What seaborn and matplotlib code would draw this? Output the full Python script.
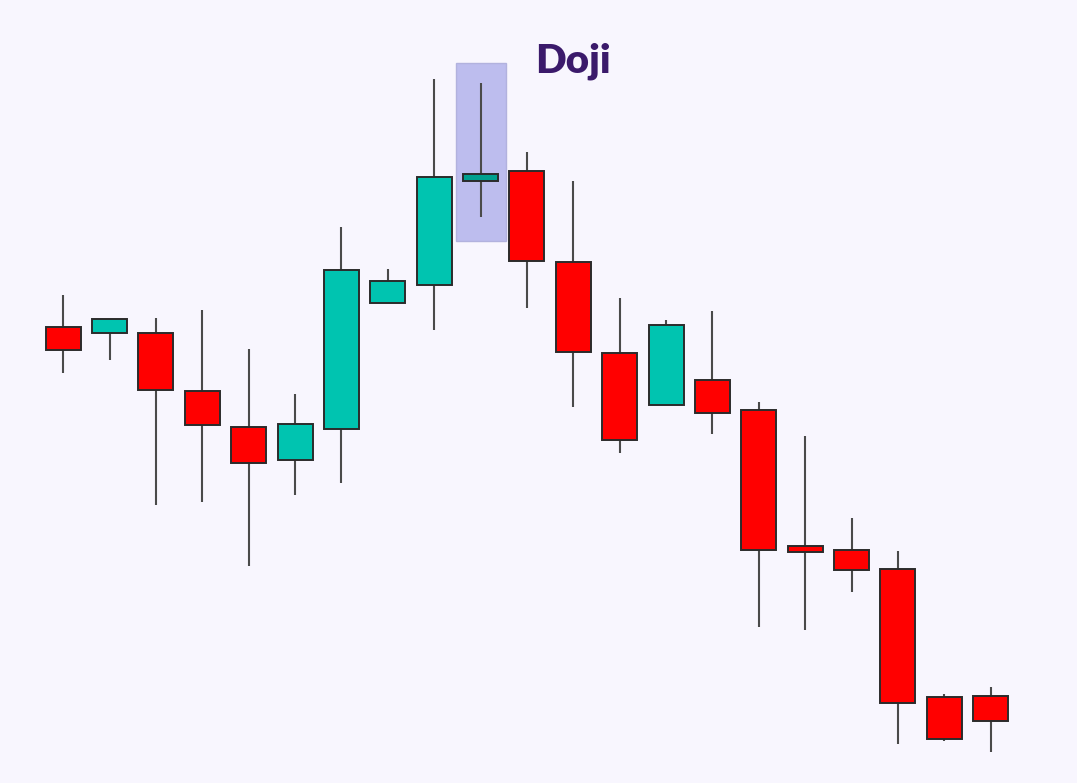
import numpy as np
import pandas as pd
import seaborn as sns
import matplotlib.pyplot as plt
from matplotlib.patches import Rectangle

# === candle data ===
opens = [118.3, 116.7, 116.8, 102.2, 93.2, 85.0, 92.7, 124.2, 128.8, 154.8,
         157.2, 134.4, 111.7, 98.8, 105.0, 97.5, 63.4, 62.5, 57.8, 25.7, 26.1]
closes = [112.6, 120.2, 102.5, 93.7, 84.2, 93.9, 132.5, 129.8, 155.8, 156.5,
          134.8, 111.9, 90.1, 118.8, 96.7, 62.5, 62.1, 57.4, 24.2, 15.3, 19.7]
highs = [126.2, 120.2, 120.4, 122.5, 112.8, 101.6, 143.2, 132.7, 180.2, 179.2,
         162.0, 154.8, 125.5, 120.0, 122.2, 99.4, 91.0, 70.5, 62.3, 26.5, 28.3]
lows = [106.7, 110.0, 73.7, 74.5, 58.5, 76.2, 79.2, 124.2, 117.5, 145.8,
        123.1, 98.3, 86.7, 98.8, 91.4, 43.2, 42.5, 51.9, 14.0, 14.8, 12.1]
doji_idx = 9
label = "Doji"

df = pd.DataFrame({"open": opens, "close": closes, "high": highs, "low": lows})
df["x"] = np.arange(len(df))
df["up"] = df["close"] >= df["open"]

bg = "#F8F6FE"
up_col = "#00C4B0"
down_col = "#FF0000"

sns.set_theme(style="white")
plt.rcParams["font.family"] = ["Lato", "DejaVu Sans"]

fig = plt.figure(figsize=(10.77, 7.83), dpi=100, facecolor=bg)
ax = fig.add_axes([0, 0, 1, 1])
ax.set_facecolor(bg)

# highlight box behind the doji candle
d = df.iloc[doji_idx]
ax.add_patch(Rectangle((d["x"] - 0.54, d["low"] - 6), 1.08, d["high"] - d["low"] + 11,
                       facecolor="#BDBDEE", edgecolor="#B2B2DE", lw=1, zorder=0))

# wicks
ax.vlines(df["x"], df["low"], df["high"], color="#4a4a4a", lw=1.5, zorder=1)

# bodies
colors = np.where(df["up"], up_col, down_col).tolist()
colors[doji_idx] = "#00A08F"
bottom = df[["open", "close"]].min(axis=1)
height = (df["close"] - df["open"]).abs()
ax.bar(df["x"], height, bottom=bottom, width=0.755, color=colors,
       edgecolor="#2b2b2b", linewidth=1.4, zorder=2)

ax.text(11.0, 182, label, ha="center", va="baseline", fontsize=29,
        fontweight="heavy", color="#3B1A6B")

ax.set_xlim(-1.363, 21.861)
ax.set_ylim(4.25, 200)
ax.axis("off")

fig.savefig("out.png", dpi=100, facecolor=bg)
